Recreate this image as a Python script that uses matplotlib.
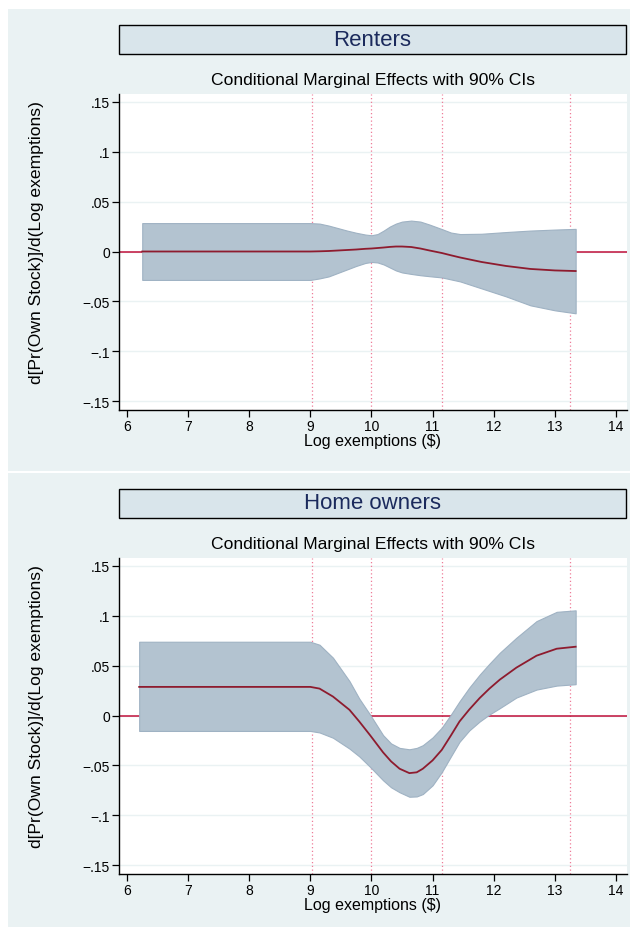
import matplotlib
matplotlib.use("Agg")
import matplotlib.pyplot as plt
from matplotlib.patches import Rectangle

plt.rcParams['font.family'] = ['Liberation Sans', 'DejaVu Sans']

# cut points of log exemptions (dotted lines)
cutpoints = [9.03, 9.99, 11.15, 13.25]

# renters: marginal effect and 90% CI
rent_x = [6.25, 9.0, 9.15, 9.3, 9.45, 9.6, 9.75, 9.9, 10.0, 10.1, 10.2, 10.3, 10.4, 10.5,
          10.65, 10.8, 10.95, 11.15, 11.3, 11.45, 11.8, 12.2, 12.6, 13.0, 13.34]
rent_me = [0.0, 0.0, 0.0002, 0.0005, 0.001, 0.0015, 0.002, 0.0027, 0.003, 0.0035, 0.004,
           0.0046, 0.005, 0.005, 0.0045, 0.003, 0.001, -0.0015, -0.0038, -0.006, -0.0105,
           -0.0145, -0.0175, -0.019, -0.0196]
rent_hi = [0.0285, 0.0285, 0.028, 0.026, 0.0235, 0.021, 0.0188, 0.017, 0.0163, 0.0175, 0.021,
           0.025, 0.028, 0.030, 0.031, 0.030, 0.027, 0.0225, 0.019, 0.0175, 0.0178, 0.0195,
           0.021, 0.022, 0.0227]
rent_lo = [-0.0285, -0.0285, -0.027, -0.025, -0.0215, -0.018, -0.0145, -0.0115, -0.0105,
           -0.011, -0.013, -0.016, -0.019, -0.021, -0.0225, -0.0238, -0.0248, -0.026, -0.028,
           -0.030, -0.037, -0.045, -0.054, -0.059, -0.062]

# home owners: marginal effect and 90% CI
own_x = [6.2, 9.0, 9.15, 9.37, 9.64, 9.8, 9.98, 10.19, 10.32, 10.46, 10.62, 10.74, 10.84,
         11.0, 11.15, 11.3, 11.44, 11.6, 11.77, 11.93, 12.1, 12.37, 12.7, 13.03, 13.34]
own_me = [0.0287, 0.0287, 0.027, 0.019, 0.0057, -0.006, -0.020, -0.037, -0.046, -0.0534,
          -0.0578, -0.057, -0.0534, -0.045, -0.0345, -0.020, -0.006, 0.006, 0.0175, 0.027,
          0.036, 0.048, 0.060, 0.067, 0.069]
own_hi = [0.074, 0.074, 0.071, 0.058, 0.0345, 0.017, 0.0006, -0.0197, -0.028, -0.0325,
          -0.0339, -0.0325, -0.0298, -0.022, -0.0122, 0.001, 0.0142, 0.028, 0.041, 0.052,
          0.063, 0.078, 0.0947, 0.104, 0.1055]
own_lo = [-0.0155, -0.0155, -0.017, -0.0223, -0.0332, -0.041, -0.0517, -0.065, -0.072,
          -0.077, -0.0815, -0.0812, -0.0788, -0.070, -0.0568, -0.041, -0.0264, -0.015,
          -0.006, 0.001, 0.0074, 0.018, 0.026, 0.030, 0.0314]

yticks = [-0.15, -0.1, -0.05, 0, 0.05, 0.1, 0.15]
ytick_labels = ['\u2212.15', '\u2212.1', '\u2212.05', '0', '.05', '.1', '.15']
xticks = list(range(6, 15))

BG = '#EAF2F3'
BOX = '#D9E5EB'
BAND = '#B3C3D0'
BAND_EDGE = '#9FB2C3'
LINE = '#8E1B2E'
ZERO = '#C0103A'
VLINE = '#EE7C98'

W, H = 630, 928
fig = plt.figure(figsize=(W / 100, H / 100), dpi=100)
fig.patch.set_facecolor('white')


def fx(px):
    return px / W


def fy(py):
    return 1 - py / H


panels = [
    ('Renters', 0, rent_x, rent_me, rent_hi, rent_lo),
    ('Home owners', 464, own_x, own_me, own_hi, own_lo),
]

for i, (name, off, x, me, hi, lo) in enumerate(panels):
    # panel background
    top_px = 10 if i == 0 else 474
    bot_px = 472 if i == 0 else 928
    fig.patches.append(Rectangle((fx(8), fy(bot_px)), 1 - fx(8), (bot_px - top_px) / H,
                                 transform=fig.transFigure, facecolor=BG,
                                 edgecolor='none', zorder=-10))
    # title box
    fig.patches.append(Rectangle((fx(119), fy(55 + off)), fx(626 - 119), 29 / H,
                                 transform=fig.transFigure, facecolor=BOX,
                                 edgecolor='black', linewidth=1.0, zorder=-5))
    fig.text(fx(372.5), fy(40 + off), name, ha='center', va='center',
             fontsize=16, color='#1B2A5C')
    fig.text(fx(373), fy(81 + off), 'Conditional Marginal Effects with 90% CIs',
             ha='center', va='center', fontsize=12.6, color='black')

    ax = fig.add_axes([fx(119), fy(411 + off), fx(627 - 119), (411 - 95) / H])
    ax.set_facecolor('white')
    ax.set_xlim(5.87, 14.18)
    ax.set_ylim(-0.159, 0.158)

    for yt in yticks:
        ax.axhline(yt, color=BG, lw=1.0, zorder=0)
    for c in cutpoints:
        ax.axvline(c, color=VLINE, lw=0.9, ls=(0, (1, 2)), zorder=1)
    ax.axhline(0, color=ZERO, lw=1.1, zorder=1.5)

    ax.fill_between(x, lo, hi, facecolor=BAND, edgecolor=BAND_EDGE, lw=0.8, zorder=2)
    ax.plot(x, me, color=LINE, lw=1.3, zorder=3)

    ax.set_yticks(yticks)
    ax.set_yticklabels(ytick_labels)
    ax.set_xticks(xticks)
    ax.tick_params(axis='both', direction='out', length=5, width=0.9,
                   labelsize=10, pad=1.5, colors='black')
    for s in ['top', 'right']:
        ax.spines[s].set_visible(False)
    for s in ['left', 'bottom']:
        ax.spines[s].set_linewidth(1.0)

    fig.text(fx(373), fy(442 + off), 'Log exemptions ($)', ha='center', va='center',
             fontsize=11.5)
    fig.text(fx(37), fy(243 + off), 'd[Pr(Own Stock)]/d(Log exemptions)',
             ha='center', va='center', rotation=90, fontsize=12.6)

fig.savefig('out.png', dpi=100)
